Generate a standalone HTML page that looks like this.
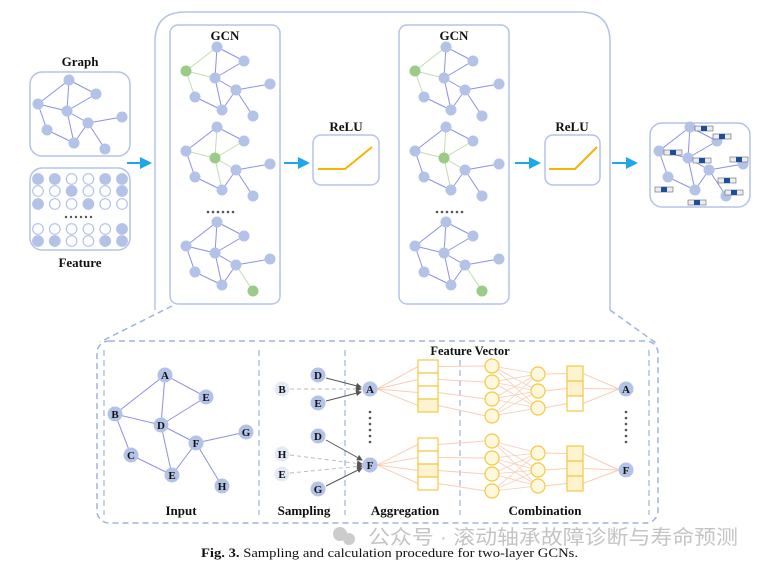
<!DOCTYPE html>
<html><head><meta charset="utf-8"><style>
body{margin:0;background:#fff;width:763px;height:565px;overflow:hidden}
svg{display:block}
text{font-family:"Liberation Serif",serif;font-weight:bold;fill:#111}
</style></head><body>
<svg id="s" width="763" height="565" viewBox="0 0 763 565" xmlns="http://www.w3.org/2000/svg">
<defs>
<marker id="ac" markerWidth="6" markerHeight="6" refX="5" refY="3" orient="auto"><path d="M0,0L6,3L0,6z" fill="#1ea7e8"/></marker>
<marker id="ag" markerWidth="6" markerHeight="6" refX="5" refY="3" orient="auto"><path d="M0,0L6,3L0,6z" fill="#555"/></marker>
</defs>
<g fill="none" stroke="#b3c3e8" stroke-width="1.5">
<rect x="30" y="72" width="100" height="84" rx="12"/>
<rect x="30" y="168" width="100" height="82" rx="12"/>
<path d="M155,310 V42 Q155,12 185,12 H580 Q610,12 610,42 V310"/>
<rect x="170" y="25" width="110" height="279" rx="8"/>
<rect x="399" y="25" width="110" height="279" rx="8"/>
<rect x="313" y="135" width="66" height="50" rx="8"/>
<rect x="545" y="135" width="55" height="50" rx="8"/>
<rect x="650" y="123" width="100" height="84" rx="12"/>
</g>
<g fill="none" stroke="#9fb3e0" stroke-width="1.5" stroke-dasharray="6,4">
<rect x="97" y="341" width="561" height="182" rx="12"/>
<path d="M172,306 L100,342 M610,310 L656,343"/>
<path d="M104,350V515 M259,350V515 M345,350V515 M460,350V515 M649,350V515" stroke-width="1.2"/>
</g>
<g stroke="#1ea7e8" stroke-width="2" marker-end="url(#ac)">
<line x1="127" y1="163" x2="150" y2="163"/><line x1="284" y1="163" x2="308" y2="163"/>
<line x1="515" y1="163" x2="539" y2="163"/><line x1="612" y1="163" x2="636" y2="163"/>
</g>
<path d="M318,169H345L372,147" stroke="#f5b400" stroke-width="2" fill="none"/>
<path d="M549,169H575L597,147" stroke="#f5b400" stroke-width="2" fill="none"/>
<g id="dyn"></g>
<text x="80" y="66" font-size="13" text-anchor="middle">Graph</text>
<text x="80" y="267" font-size="13" text-anchor="middle">Feature</text>
<text x="225" y="40" font-size="13" text-anchor="middle">GCN</text>
<text x="454" y="40" font-size="13" text-anchor="middle">GCN</text>
<text x="346" y="131" font-size="13" text-anchor="middle">ReLU</text>
<text x="572" y="131" font-size="13" text-anchor="middle">ReLU</text>
<text x="470" y="355" font-size="12.5" text-anchor="middle">Feature Vector</text>
<text x="181" y="515" font-size="13" text-anchor="middle">Input</text>
<text x="304" y="515" font-size="13" text-anchor="middle">Sampling</text>
<text x="405" y="515" font-size="13" text-anchor="middle">Aggregation</text>
<text x="545" y="515" font-size="13" text-anchor="middle">Combination</text>
<circle cx="340" cy="534" r="7" fill="#ccc"/><circle cx="349" cy="539" r="6" fill="#ccc"/>
<text x="368" y="544" font-size="20" textLength="370" lengthAdjust="spacingAndGlyphs" style="font-family:'Liberation Sans','Noto Sans CJK SC',sans-serif;font-weight:normal;fill:#c4c4c4">公众号 · 滚动轴承故障诊断与寿命预测</text>
<text x="201" y="557" font-size="12.5" textLength="377" lengthAdjust="spacingAndGlyphs" style="font-weight:normal"><tspan font-weight="bold">Fig. 3.</tspan>  Sampling and calculation procedure for two-layer GCNs.</text>
</svg>
<script>
var NS="http://www.w3.org/2000/svg",G=document.getElementById("dyn");
function el(t,a,p){var e=document.createElementNS(NS,t);for(var k in a)e.setAttribute(k,a[k]);(p||G).appendChild(e);return e}
var BL="#b3c3e8",ED="#8f8fe6",GR="#9acb87",GL="#c2dcb0";
var N=[[69,80],[96,94],[38,104],[67,111],[88,123],[47,130],[74,143],[122,117],[105,149]];
var E=[[0,2],[0,3],[0,1],[2,3],[3,1],[2,5],[5,6],[3,6],[3,4],[6,4],[4,7],[4,8]];
function graph(dx,dy,s,g,r){
 E.forEach(function(e){var gr=g>=0&&(e[0]==g||e[1]==g);
  el("line",{x1:dx+N[e[0]][0]*s,y1:dy+N[e[0]][1]*s,x2:dx+N[e[1]][0]*s,y2:dy+N[e[1]][1]*s,stroke:gr?GL:ED,"stroke-width":1});});
 N.forEach(function(n,i){el("circle",{cx:dx+n[0]*s,cy:dy+n[1]*s,r:r,fill:i==g?GR:BL});});
}
graph(0,0,1,-1,5.5);
var gs=[[2,0],[3,80],[8,175]];
[0,229].forEach(function(ox){gs.forEach(function(q){graph(148+ox,-33+q[1],1,q[0],5.5)});
 for(var i=0;i<6;i++)el("circle",{cx:208+ox+i*5,cy:212,r:1.3,fill:"#555"});});
graph(621,47,1,-1,5.5);
var bars=[[695,126],[713,134],[664,150],[693,158],[730,157],[718,178],[725,190],[655,187],[688,200]];
bars.forEach(function(b){el("rect",{x:b[0],y:b[1],width:18,height:5,fill:"#e8ecf5",stroke:"#666","stroke-width":0.6});el("rect",{x:b[0]+6,y:b[1],width:6,height:5,fill:"#1c4f95"});});
var F=["110011","001001","100100","000001","110011"],ys=[179,191,204,229,241];
F.forEach(function(r,j){for(var i=0;i<6;i++)el("circle",{cx:38+i*16.8,cy:ys[j],r:5.3,fill:r[i]=="1"?BL:"#fff",stroke:BL,"stroke-width":1.2});});
for(var i=0;i<6;i++)el("circle",{cx:66+i*5,cy:217,r:1.2,fill:"#555"});
var P={A:[165,375],B:[115,414],E1:[206,397],D:[161,425],G:[246,432],F:[196,443],C:[131,455],E2:[172,475],H:[222,486]};
[["A","B"],["A","E1"],["A","D"],["B","D"],["D","E1"],["D","F"],["D","E2"],["B","C"],["C","E2"],["E2","F"],["F","G"],["F","H"]].forEach(function(e){el("line",{x1:P[e[0]][0],y1:P[e[0]][1],x2:P[e[1]][0],y2:P[e[1]][1],stroke:ED,"stroke-width":1});});
function node(x,y,t,light){el("circle",{cx:x,cy:y,r:7.5,fill:light?"#e3e9f7":BL});var tx=el("text",{x:x,y:y+4,"font-size":11,"text-anchor":"middle"});tx.textContent=t;}
for(var k in P)node(P[k][0],P[k][1],k[0]);
function arr(x1,y1,x2,y2,d){el("line",{x1:x1,y1:y1,x2:x2,y2:y2,stroke:d?"#bbb":"#555","stroke-width":1,"stroke-dasharray":d?"4,3":"none","marker-end":"url(#ag)"});}
arr(326,378,361,387);arr(326,401,361,392);arr(290,389,361,389,1);
arr(326,440,362,460);arr(290,455,362,464,1);arr(290,473,362,466,1);arr(326,486,362,468);
node(282,389,"B",1);node(318,375,"D");node(318,403,"E");node(370,389,"A");
node(318,436,"D");node(282,454,"H",1);node(282,474,"E",1);node(318,489,"G");node(370,465,"F");
for(var i=0;i<6;i++){el("circle",{cx:370,cy:412+i*6,r:1.3,fill:"#555"});el("circle",{cx:626,cy:412+i*6,r:1.3,fill:"#555"});}
var OR="#f9cdb5",YL="#f5c842";
function net(ay,fy,fill,c1,c2,by,bfill,oy){
 for(var i=0;i<4;i++){el("line",{x1:377,y1:ay,x2:418,y2:fy+6.5+i*13,stroke:OR});el("line",{x1:438,y1:fy+6.5+i*13,x2:486,y2:c1[i],stroke:OR});}
 c1.forEach(function(a){c2.forEach(function(b){el("line",{x1:492,y1:a,x2:538,y2:b,stroke:OR,"stroke-width":0.8});});});
 for(var j=0;j<3;j++){el("line",{x1:544,y1:c2[j],x2:567,y2:by+7.5+j*15,stroke:OR});el("line",{x1:583,y1:by+7.5+j*15,x2:619,y2:oy,stroke:OR});}
 for(var i=0;i<4;i++)el("rect",{x:418,y:fy+i*13,width:20,height:13,fill:fill[i]?"#fdf3d0":"#fff",stroke:YL,"stroke-width":1.2});
 c1.forEach(function(a){el("circle",{cx:492,cy:a,r:7,fill:"#fff8dc",stroke:YL,"stroke-width":1.2});});
 c2.forEach(function(a){el("circle",{cx:538,cy:a,r:7,fill:"#fff8dc",stroke:YL,"stroke-width":1.2});});
 for(var j=0;j<3;j++)el("rect",{x:567,y:by+j*15,width:16,height:15,fill:bfill[j]?"#fdf3d0":"#fff",stroke:YL,"stroke-width":1.2});
}
net(389,360,[0,0,0,1],[366,382,399,416],[374,391,408],366,[1,1,0],389);
net(465,438,[0,0,1,0],[441,458,474,491],[453,470,486],446,[1,1,1],470);
node(370,389,"A");node(370,465,"F");node(626,389,"A");node(626,470,"F");
</script>
</body></html>
